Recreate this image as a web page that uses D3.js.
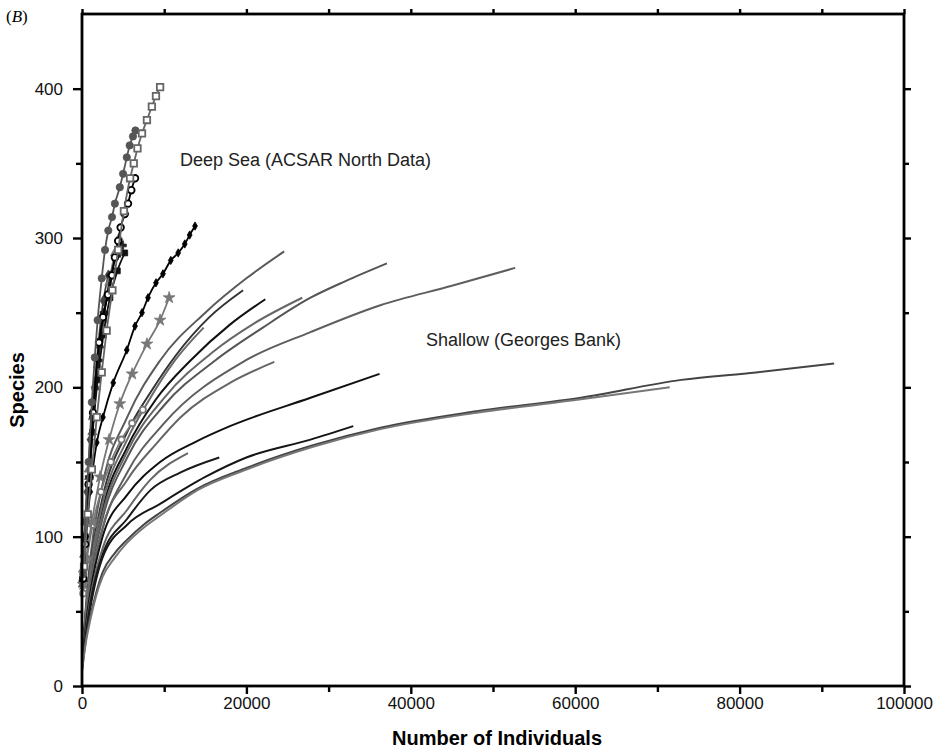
<!DOCTYPE html>
<html>
<head>
<meta charset="utf-8">
<script src="https://cdn.jsdelivr.net/npm/d3@7"></script>
<style>
body { margin: 0; background: #fff; }
text { font-family: "Liberation Sans", Arial, sans-serif; }
</style>
</head>
<body>
<script>
// axis ticks
var xTicks = [0, 20000, 40000, 60000, 80000, 100000];
var xMinorTicks = [10000, 30000, 50000, 70000, 90000];
var yTicks = [0, 100, 200, 300, 400];
var yMinorTicks = [50, 150, 250, 350];

// shallow curves (Georges Bank) [individuals, species]
var gb01 = [[0,15],[500,55],[1000,85],[2500,135],[5500,180],[9500,218],[15000,250],[20000,273],[24600,291]];
var gb02 = [[0,14],[500,48],[1000,72],[2500,112],[5500,153],[10000,188],[16200,218],[22000,240],[27800,260],[32000,271],[37100,283]];
var gb03 = [[0,14],[500,45],[1000,68],[2500,105],[5500,143],[10000,176],[19900,218],[27800,237],[36300,255],[45000,268],[52700,280]];
var gb04 = [[0,15],[500,53],[1000,80],[2500,126],[5500,170],[8500,198],[11500,222],[15500,247],[19600,265]];
var gb05 = [[0,15],[500,50],[1000,75],[2500,118],[5500,160],[9000,192],[13200,218],[18000,242],[22300,259]];
var gb06 = [[0,15],[500,49],[1000,74],[2500,115],[5500,157],[10000,193],[16000,224],[21000,243],[26800,260]];
var gb07 = [[0,15],[500,52],[1000,78],[2500,122],[5500,165],[8000,190],[11300,218],[14800,240]];
var gb08 = [[0,14],[500,45],[1000,66],[2500,106],[5500,138],[9000,162],[12000,180],[18000,203],[23400,217]];
var gb09 = [[0,13],[500,42],[1000,62],[2500,100],[5500,128],[9500,150],[14000,164],[18000,174],[27800,193],[36200,209]];
var gb10 = [[0,12],[500,35],[1000,52],[2500,86],[5500,108],[9500,122],[15000,140],[20000,153],[27800,165],[33000,174]];
var gb11 = [[0,12],[500,38],[1000,58],[2500,92],[5500,118],[8300,138],[12900,156]];
var gb12 = [[0,12],[500,36],[1000,55],[2500,88],[5500,112],[8300,131],[12000,143],[16700,153]];
var gb13 = [[0,10],[500,32],[1000,46],[1700,62],[2500,76],[4000,89],[5500,98],[7500,108],[9500,116],[14000,132],[20000,146],[28000,161],[36300,173],[48000,184],[60700,193],[72900,205],[82000,210],[91500,216]];
var gb14 = [[0,10],[500,30],[1000,44],[1700,60],[2500,73],[4000,86],[5500,96],[7500,106],[9500,114],[14000,131],[20000,145],[28000,160],[36300,172],[48000,183],[60700,192],[71500,200]];

// deep sea curves (ACSAR North)
var ds01 = [[250,80],[700,115],[1200,145],[1800,180],[2400,210],[3000,238],[3700,265],[4400,292],[5100,318],[5850,340],[6300,350],[6750,360],[7300,370],[7900,379],[8500,388],[9000,395],[9500,401]];
var ds02 = [[150,75],[400,110],[800,150],[1200,190],[1550,220],[1900,245],[2400,273],[2800,292],[3200,305],[3650,314],[4000,323],[4600,334],[5000,343],[5450,354],[5800,362],[6200,368],[6500,372]];
var ds03 = [[150,72],[400,95],[800,135],[1340,183],[2070,230],[2550,247],[3160,262],[3650,275],[4000,287],[4400,298],[4700,307],[5200,316],[5600,323],[6000,332],[6450,340]];
var ds04 = [[150,72],[500,100],[1000,130],[1800,163],[2550,180],[3800,203],[5450,225],[6450,241],[7300,250],[8030,260],[9000,270],[9850,276],[10800,285],[11700,290],[12500,296],[13100,302],[13750,308]];
var ds05 = [[150,68],[500,85],[1200,110],[2200,140],[3300,165],[4600,189],[6100,209],[7900,229],[9500,245],[10600,260]];
var ds06 = [[100,72],[400,100],[800,135],[1300,170],[1900,205],[2600,235],[3400,260],[4300,278],[5200,290]];
var ds07 = [[100,78],[400,110],[800,145],[1300,180],[1900,215],[2600,245],[3300,270],[4000,290],[4500,300]];
var ds08 = [[80,70],[300,100],[600,130],[1000,165],[1500,200],[2000,230],[2600,258],[3200,275]];
var ds09 = [[150,62],[600,85],[1300,108],[2300,130],[3500,150],[4800,165],[6100,176],[7400,185]];
var ds10 = [[120,70],[450,100],[900,140],[1400,180],[2000,218],[2700,250],[3500,275],[4200,288],[4900,295]];
var ds11 = [[80,68],[250,88],[500,112],[850,140],[1250,170],[1700,200],[2200,228],[2700,250],[3100,262]];

var shallowCurves = [gb01, gb02, gb03, gb04, gb05, gb06, gb07, gb08, gb09, gb10, gb11, gb12, gb13, gb14];
var shallowColors = ['#5a5a5a', '#555', '#5e5e5e', '#333', '#111', '#666', '#6a6a6a', '#666', '#111', '#151515', '#666', '#1a1a1a', '#444', '#777'];

var deepCurves = [ds09, ds11, ds08, ds07, ds10, ds06, ds05, ds04, ds03, ds02, ds01];
var deepStyles = [
    {color: '#777', symbol: d3.symbolCircle, fill: 'open', size: 30},
    {color: '#555', symbol: d3.symbolTriangle, fill: 'solid', size: 34},
    {color: '#444', symbol: d3.symbolDiamond, fill: 'solid', size: 34},
    {color: '#777', symbol: d3.symbolTriangle, fill: 'solid', size: 34},
    {color: '#222', symbol: d3.symbolCross, fill: 'solid', size: 36},
    {color: '#111', symbol: d3.symbolSquare, fill: 'solid', size: 34},
    {color: '#777', symbol: d3.symbolStar, fill: 'solid', size: 44},
    {color: '#000', symbol: d3.symbolDiamond, fill: 'solid', size: 20},
    {color: '#000', symbol: d3.symbolCircle, fill: 'open', size: 34},
    {color: '#555', symbol: d3.symbolCircle, fill: 'solid', size: 42},
    {color: '#666', symbol: d3.symbolSquare, fill: 'open', size: 42}
];

var width = 933, height = 751;
var mLeft = 82, mRight = 904, mTop = 14, mBottom = 686;

var svg = d3.select('body').append('svg')
        .attr('width', width)
        .attr('height', height);

var x = d3.scaleLinear().domain([0, 100000]).range([mLeft, mRight]);
var y = d3.scaleLinear().domain([0, 450]).range([mBottom, mTop]);

function drawTicks() {
    // bottom
    svg.append('g').attr('transform', 'translate(0,' + mBottom + ')')
            .call(d3.axisBottom(x).tickValues(xTicks).tickSize(8).tickFormat(d3.format('d')))
            .call(styleAxis);
    svg.append('g').attr('transform', 'translate(0,' + mBottom + ')')
            .call(d3.axisBottom(x).tickValues(xMinorTicks).tickSize(6).tickFormat(''))
            .call(styleAxis);
    // top
    svg.append('g').attr('transform', 'translate(0,' + mTop + ')')
            .call(d3.axisTop(x).tickValues(xTicks.concat(xMinorTicks)).tickSize(5).tickFormat(''))
            .call(styleAxis);
    // left
    svg.append('g').attr('transform', 'translate(' + mLeft + ',0)')
            .call(d3.axisLeft(y).tickValues(yTicks).tickSize(9).tickPadding(10).tickFormat(d3.format('d')))
            .call(styleAxis);
    svg.append('g').attr('transform', 'translate(' + mLeft + ',0)')
            .call(d3.axisLeft(y).tickValues(yMinorTicks).tickSize(6).tickFormat(''))
            .call(styleAxis);
    // right
    svg.append('g').attr('transform', 'translate(' + mRight + ',0)')
            .call(d3.axisRight(y).tickValues(yTicks).tickSize(7).tickFormat(''))
            .call(styleAxis);
    svg.append('g').attr('transform', 'translate(' + mRight + ',0)')
            .call(d3.axisRight(y).tickValues(yMinorTicks).tickSize(5).tickFormat(''))
            .call(styleAxis);
}

function styleAxis(g) {
    g.select('.domain').remove();
    g.selectAll('line').attr('stroke', '#000').attr('stroke-width', 2.4);
    g.selectAll('text').attr('fill', '#111').style('font-size', '17px');
}

var line = d3.line()
        .x(function (d) { return x(d[0]); })
        .y(function (d) { return y(d[1]); })
        .curve(d3.curveMonotoneX);

function drawShallow() {
    shallowCurves.forEach(function (c, i) {
        svg.append('path')
                .attr('d', line(c))
                .attr('fill', 'none')
                .attr('stroke', shallowColors[i])
                .attr('stroke-width', 2);
    });
}

function drawDeep() {
    deepCurves.forEach(function (c, i) {
        var st = deepStyles[i];
        svg.append('path')
                .attr('d', line(c))
                .attr('fill', 'none')
                .attr('stroke', st.color)
                .attr('stroke-width', 1.8);
        svg.append('g').selectAll('path')
                .data(c)
                .enter().append('path')
                .attr('d', d3.symbol().type(st.symbol).size(st.size))
                .attr('transform', function (d) { return 'translate(' + x(d[0]) + ',' + y(d[1]) + ')'; })
                .attr('fill', st.fill == 'open' ? '#fff' : st.color)
                .attr('stroke', st.color)
                .attr('stroke-width', st.fill == 'open' ? 1.8 : 0.8);
    });
}

drawShallow();
drawDeep();
drawTicks();

// frame
svg.append('rect')
        .attr('x', mLeft).attr('y', mTop)
        .attr('width', mRight - mLeft).attr('height', mBottom - mTop)
        .attr('fill', 'none')
        .attr('stroke', '#000')
        .attr('stroke-width', 2.8);

svg.append('text')
        .attr('x', 6).attr('y', 22)
        .style('font-family', '"Liberation Serif", serif')
        .style('font-size', '17px')
        .html('(<tspan font-style="italic">B</tspan>)');

svg.append('text')
        .attr('x', 180).attr('y', 166)
        .style('font-size', '18px')
        .attr('fill', '#222')
        .text('Deep Sea (ACSAR North Data)');

svg.append('text')
        .attr('x', 426).attr('y', 346)
        .style('font-size', '18px')
        .attr('fill', '#222')
        .text('Shallow (Georges Bank)');

svg.append('text')
        .attr('x', (mLeft + mRight) / 2 + 4).attr('y', 745)
        .attr('text-anchor', 'middle')
        .style('font-size', '20px')
        .style('font-weight', 'bold')
        .text('Number of Individuals');

svg.append('text')
        .attr('transform', 'translate(24,' + ((mTop + mBottom) / 2 + 40) + ') rotate(-90)')
        .attr('text-anchor', 'middle')
        .style('font-size', '20px')
        .style('font-weight', 'bold')
        .text('Species');
</script>
</body>
</html>
